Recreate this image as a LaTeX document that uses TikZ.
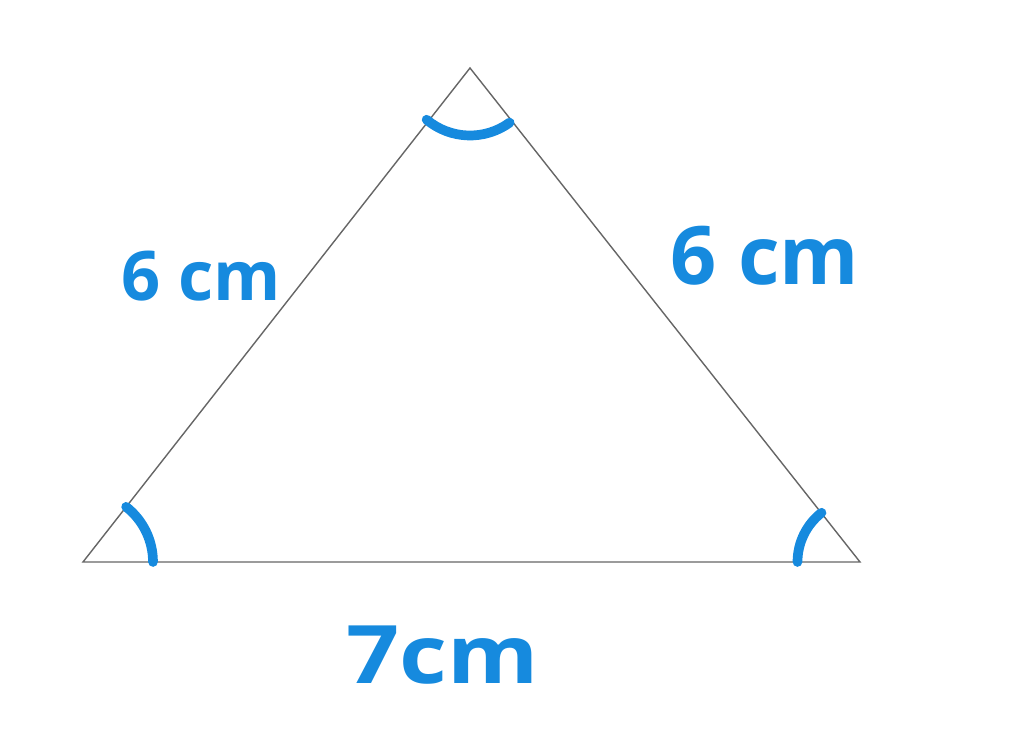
\documentclass[tikz,border=0pt]{standalone}
\usepackage{fontspec}
\setsansfont{Open Sans}
\usetikzlibrary{calc,positioning}
\definecolor{penblue}{RGB}{22,138,222}
\tikzstyle{side}=[
  draw=black!60,
  line width=0.8pt,
  line join=miter,
]
\tikzstyle{anglemark}=[
  draw=penblue,
  line width=5.5pt,
  line cap=round,
]
\tikzstyle{length}=[
  text=penblue,
  font={\fontsize{46}{50}\selectfont\sffamily\bfseries},
  inner sep=0pt,
]

\begin{document}
\begin{tikzpicture}
      \useasboundingbox (0,0) rectangle (20.48,15.12);
      \coordinate (left) at (1.66,3.88);
      \coordinate (right) at (17.2,3.88);
      \coordinate (top) at (9.4,13.76);
      \draw [side] (left) -- (right) -- (top) -- cycle;
      % angle marks
      \draw [anglemark] ($(left)+(0:1.4)$) arc [start angle=0, end angle=52, radius=1.4];
      \draw [anglemark] ($(right)+(128:1.25)$) arc [start angle=128, end angle=180, radius=1.25];
      \draw [anglemark] ($(top)+(-130:1.35)$) arc [start angle=-130, end angle=-54, radius=1.35];
      % side lengths
      \node (leftlen) [length, font={\fontsize{39}{44}\selectfont\sffamily\bfseries}] at (4.02,9.6) {6 cm};
      \node (rightlen) [length] at (15.3,10.0) {6 cm};
      \node (baselen) [length, xscale=1.15] at (8.85,2.02) {7cm};
    \end{tikzpicture}
\end{document}
